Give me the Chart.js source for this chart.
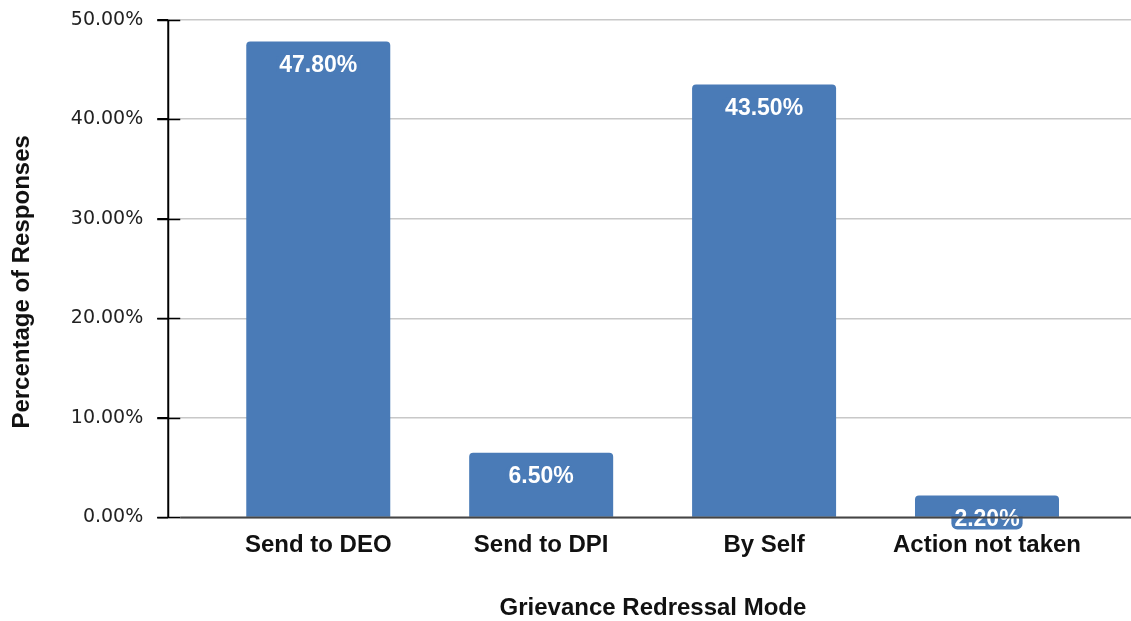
<!DOCTYPE html>
<html>
<head>
<meta charset="utf-8">
<script src="https://cdn.jsdelivr.net/npm/chart.js@4.4.0/dist/chart.umd.min.js"></script>
<style>
  body { margin: 0; background: #fff; }
  #wrap { width: 1131px; height: 621px; }
</style>
</head>
<body>
<div id="wrap"><canvas id="grievanceChart"></canvas></div>
<script>
// data
var modes = ['Send to DEO', 'Send to DPI', 'By Self', 'Action not taken'];
var responses = [47.8, 6.5, 43.5, 2.2];
var yTicks = [0, 10, 20, 30, 40, 50];

var barColor = '#4a7bb7';

// white value labels near the top of each bar
var valueLabels = {
    id: 'valueLabels',
    afterDatasetsDraw: function(chart) {
        let ctx = chart.ctx;
        let meta = chart.getDatasetMeta(0);
        ctx.save();
        ctx.font = 'bold 23px "Liberation Sans", Arial, sans-serif';
        ctx.textAlign = 'center';
        ctx.textBaseline = 'middle';
        meta.data.forEach(function(bar, i) {
            let txt = responses[i].toFixed(2) + '%';
            let cy = bar.y + 23;
            let w = ctx.measureText(txt).width + 6;
            ctx.fillStyle = barColor;
            ctx.beginPath();
            ctx.roundRect(bar.x - w / 2, cy - 10, w, 21, 6);
            ctx.fill();
            ctx.fillStyle = '#ffffff';
            ctx.fillText(txt, bar.x, cy + 1);
        });
        // axis lines and black tick marks on top
        let area = chart.chartArea;
        let y = chart.scales.y;
        ctx.strokeStyle = '#000';
        ctx.lineWidth = 2;
        ctx.beginPath();
        ctx.moveTo(area.left, y.getPixelForValue(50));
        ctx.lineTo(area.left, y.getPixelForValue(0));
        ctx.stroke();
        ctx.lineWidth = 1.5;
        yTicks.forEach(function(v) {
            let py = Math.round(y.getPixelForValue(v)) + 0.5;
            ctx.beginPath();
            ctx.moveTo(area.left - 11, py);
            ctx.lineTo(area.left + 12, py);
            ctx.stroke();
        });
        ctx.strokeStyle = '#444';
        ctx.lineWidth = 2;
        ctx.beginPath();
        ctx.moveTo(area.left + 12, y.getPixelForValue(0));
        ctx.lineTo(area.right, y.getPixelForValue(0));
        ctx.stroke();
        ctx.restore();
    }
};

let ctx_bar = document.getElementById('grievanceChart').getContext('2d');

let myBarChart = new Chart(ctx_bar, {
    type: 'bar',
    data: {
        datasets: [{
            data: responses.map(function(v, i) { return {x: i, y: v}; }),
            backgroundColor: barColor,
            borderRadius: {topLeft: 4, topRight: 4},
            borderSkipped: 'bottom',
            barPercentage: 0.646,
            categoryPercentage: 1
        }]
    },
    options: {
        responsive: true,
        maintainAspectRatio: false,
        animation: false,
        layout: {padding: {top: 0, right: 0, left: 8, bottom: -2}},
        plugins: {
            legend: {display: false},
            tooltip: {enabled: false}
        },
        scales: {
            x: {
                type: 'linear',
                offset: false,
                min: -0.673,
                max: 3.646,
                afterBuildTicks: function(scale) {
                    scale.ticks = modes.map(function(m, i) { return {value: i}; });
                },
                grid: {display: false},
                border: {display: false},
                ticks: {
                    padding: 6,
                    color: '#111',
                    font: {family: '"Liberation Sans", Arial, sans-serif', size: 24, weight: 'bold'},
                    maxRotation: 0,
                    callback: function(v) { return modes[v]; }
                },
                title: {
                    display: true,
                    text: ' Grievance Redressal Mode',
                    color: '#111',
                    font: {family: '"Liberation Sans", Arial, sans-serif', size: 24, weight: 'bold'},
                    padding: {top: 28, bottom: 0}
                }
            },
            y: {
                min: 0,
                max: 50,
                afterBuildTicks: function(scale) {
                    scale.ticks = yTicks.map(function(v) { return {value: v}; });
                },
                grid: {color: '#c8c8c8', lineWidth: 1.5, tickLength: 11, tickColor: '#000'},
                border: {display: false},
                ticks: {
                    padding: 14,
                    color: '#222',
                    font: {family: '"DejaVu Sans", sans-serif', size: 19, lineHeight: 0.6},
                    callback: function(v) { return v.toFixed(2) + '%'; }
                },
                title: {
                    display: true,
                    text: 'Percentage of Responses    ',
                    color: '#111',
                    font: {family: '"Liberation Sans", Arial, sans-serif', size: 24, weight: 'bold'},
                    padding: {top: 0, bottom: 20}
                }
            }
        }
    },
    plugins: [valueLabels]
});
</script>
</body>
</html>
